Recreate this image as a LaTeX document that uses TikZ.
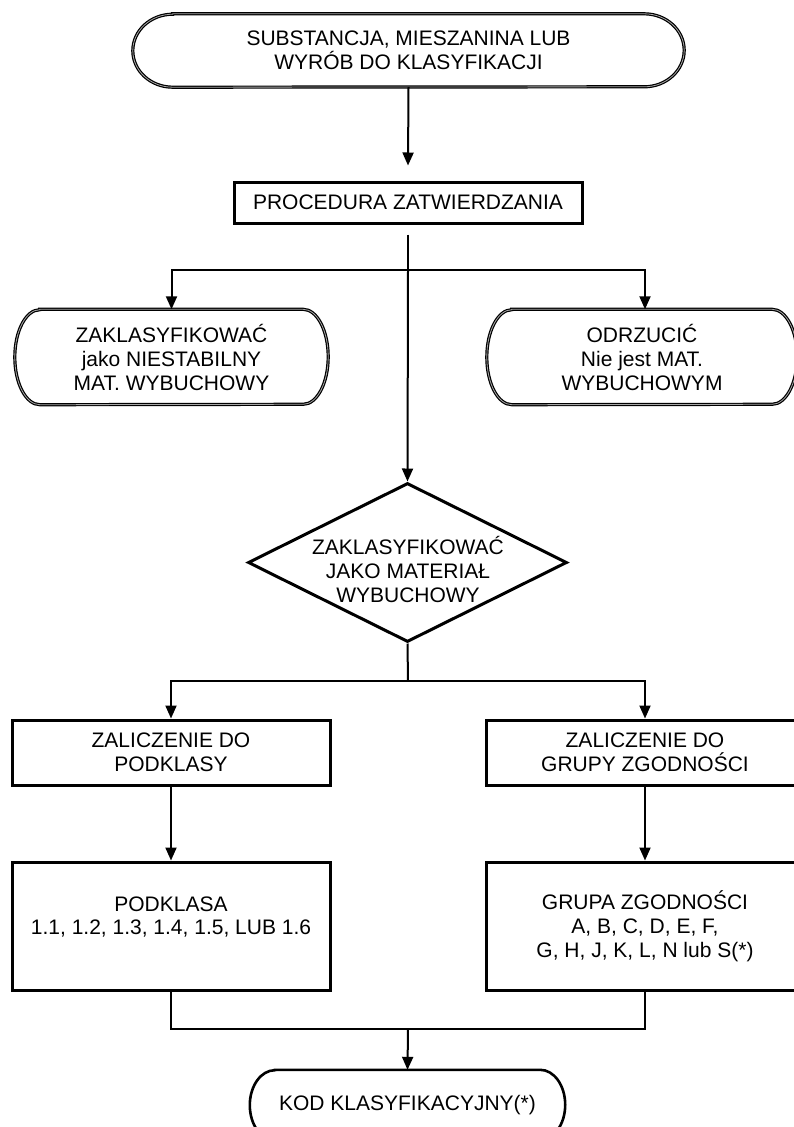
\documentclass[tikz,border=0pt]{standalone}
\usepackage{fontspec}
\setmainfont{Liberation Sans}
\usetikzlibrary{arrows.meta,shapes.geometric,calc}
\begin{document}
\begin{tikzpicture}[x=1pt,y=1pt,
  txt/.style={font=\fontsize{21}{24}\selectfont, align=center, inner sep=0pt},
  boxnode/.style={txt, draw, line width=3pt, rectangle},
  conn/.style={line width=2pt},
  arr/.style={conn, -{Triangle[length=13pt,width=11pt]}},
  dbl/.style={line width=1.2pt, double=black!35, double distance=0.8pt},
  sgl/.style={line width=2.6pt}]
\useasboundingbox (0,0) rectangle (793,-1127);
\fill[white] (0,0) rectangle (793,-1127);

% top terminator
\node[txt, minimum width=551pt, minimum height=73pt] (top) at (408.5,-50.5)
  {SUBSTANCJA, MIESZANINA LUB\\WYRÓB DO KLASYFIKACJI};
\draw[dbl] ([xshift=40pt]top.north west) -- ([xshift=-40pt]top.north east)
  arc[start angle=90,end angle=-90,x radius=40pt,y radius=36.5pt]
  -- ([xshift=40pt]top.south west)
  arc[start angle=270,end angle=90,x radius=40pt,y radius=36.5pt] -- cycle;

% procedure
\node[boxnode, minimum width=348pt, minimum height=41pt] (proc) at (408,-202.5)
  {PROCEDURA ZATWIERDZANIA};

% left / right terminators
\node[txt, minimum width=313pt, minimum height=95pt] (zak) at (171.5,-357)
  {ZAKLASYFIKOWAĆ\\jako NIESTABILNY\\MAT. WYBUCHOWY};
\draw[dbl] ([xshift=25pt]zak.north west) -- ([xshift=-25pt]zak.north east)
  arc[start angle=90,end angle=-90,x radius=25pt,y radius=47.5pt]
  -- ([xshift=25pt]zak.south west)
  arc[start angle=270,end angle=90,x radius=25pt,y radius=47.5pt] -- cycle;

\node[txt, minimum width=310pt, minimum height=95pt] (odr) at (642,-357)
  {ODRZUCIĆ\\Nie jest MAT.\\WYBUCHOWYM};
\draw[dbl] ([xshift=25pt]odr.north west) -- ([xshift=-25pt]odr.north east)
  arc[start angle=90,end angle=-90,x radius=25pt,y radius=47.5pt]
  -- ([xshift=25pt]odr.south west)
  arc[start angle=270,end angle=90,x radius=25pt,y radius=47.5pt] -- cycle;

% decision
\node[shape=diamond, draw, line width=3pt, inner sep=0pt,
  minimum width=319pt, minimum height=159pt] (dia) at (407.5,-562.5) {};
\node[txt] (diat) at (408,-569.5)
  {ZAKLASYFIKOWAĆ\\JAKO MATERIAŁ\\WYBUCHOWY};

% lower boxes
\node[boxnode, minimum width=318pt, minimum height=65pt] (pz1) at (171,-752.5)
  {ZALICZENIE DO\\PODKLASY};
\node[boxnode, minimum width=318pt, minimum height=65pt] (gz1) at (645,-752.5)
  {ZALICZENIE DO\\GRUPY ZGODNOŚCI};
\node[draw, line width=3pt, rectangle, minimum width=318pt, minimum height=128pt]
  (pz2) at (171,-926) {};
\node[txt] (pz2t) at (171,-917) {PODKLASA\\1.1, 1.2, 1.3, 1.4, 1.5, LUB 1.6};
\node[boxnode, minimum width=318pt, minimum height=128pt] (gz2) at (645,-926)
  {GRUPA ZGODNOŚCI\\A, B, C, D, E, F,\\G, H, J, K, L, N lub S(*)};

% bottom terminator
\node[txt, minimum width=315pt, minimum height=70pt] (kod) at (407.5,-1105)
  {KOD KLASYFIKACYJNY(*)};
\draw[sgl] ([xshift=25pt]kod.north west) -- ([xshift=-25pt]kod.north east)
  arc[start angle=90,end angle=-90,x radius=25pt,y radius=35pt]
  -- ([xshift=25pt]kod.south west)
  arc[start angle=270,end angle=90,x radius=25pt,y radius=35pt] -- cycle;

% connectors
\coordinate (j1) at (408,-270);
\coordinate (j2) at (408,-681);
\coordinate (j3) at (408,-1029);
\draw[arr] (top.south) -- ([yshift=15pt]proc.north);
\draw[conn] ([yshift=-10pt]proc.south) -- (j1);
\draw[arr] (j1) -- (dia.north);
\draw[arr] (j1) -| (zak.north);
\draw[arr] (j1) -| ([xshift=3pt]odr.north);
\draw[conn] (dia.south) -- (j2);
\draw[arr] (j2) -| (pz1.north);
\draw[arr] (j2) -| (gz1.north);
\draw[arr] (pz1.south) -- (pz2.north);
\draw[arr] (gz1.south) -- (gz2.north);
\draw[conn] (pz2.south) |- (j3) -| (gz2.south);
\draw[arr] (j3) -- (kod.north);
\end{tikzpicture}
\end{document}
